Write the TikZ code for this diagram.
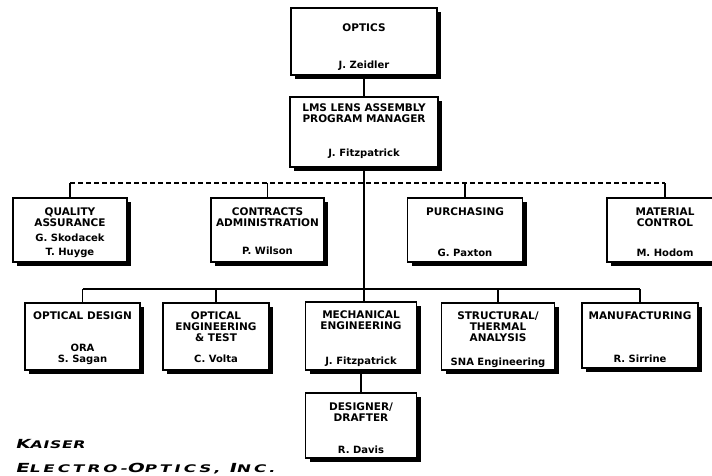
\documentclass[tikz,border=0pt]{standalone}
\usepackage{fontspec}
\setmainfont{DejaVu Sans}
\newfontfamily\kaiserfont[FakeStretch=1.5,FakeSlant=0.25,LetterSpace=6]{DejaVu Sans Bold}
\newfontfamily\kaiserwide[FakeStretch=1.6,FakeSlant=0.25,LetterSpace=28]{DejaVu Sans Bold}
\usetikzlibrary{positioning,shadows}
\newcommand\kbig[1]{{\fontsize{12.5}{14}\selectfont #1}}
\newcommand\ksmall[1]{{\fontsize{10.5}{12}\selectfont #1}}

\begin{document}
\begin{tikzpicture}[x=1pt,y=-1pt,
  unit/.style={draw, line width=1.1pt, fill=white, inner sep=0pt,
    drop shadow={shadow xshift=4pt, shadow yshift=-4pt, opacity=1, fill=black}},
  title/.style={inner sep=0pt, align=center, font=\fontsize{10.5}{11}\selectfont\bfseries},
  person/.style={inner sep=0pt, align=center, text depth=2pt, font=\fontsize{10}{11}\selectfont\bfseries},
  link/.style={line width=1.1pt},
  logo/.style={inner sep=0pt, anchor=base west}]
  \useasboundingbox (0,0) rectangle (712,475);

  \node[unit, minimum width=146pt, minimum height=67pt] (optics) at (364,41.5) {};
  \node[title, below=16pt of optics.north] (optics-t) {OPTICS};
  \node[person, above=4.5pt of optics.south] (optics-n) {J. Zeidler};

  \node[unit, minimum width=148pt, minimum height=70pt] (lms) at (364,132) {};
  \node[title, below=7pt of lms.north] (lms-t) {LMS LENS ASSEMBLY\\PROGRAM MANAGER};
  \node[person, above=8.5pt of lms.south] (lms-n) {J. Fitzpatrick};

  \node[unit, minimum width=114pt, minimum height=64pt] (qa) at (70,230) {};
  \node[title, below=10pt of qa.north] (qa-t) {QUALITY\\ASSURANCE};
  \node[person, above=4.5pt of qa.south] (qa-n) {G. Skodacek\\[3pt]T. Huyge};

  \node[unit, minimum width=113pt, minimum height=64pt] (contracts) at (267.5,230) {};
  \node[title, below=10pt of contracts.north] (contracts-t) {CONTRACTS\\ADMINISTRATION};
  \node[person, above=6pt of contracts.south] (contracts-n) {P. Wilson};

  \node[unit, minimum width=115pt, minimum height=64pt] (purchasing) at (465,230) {};
  \node[title, below=10pt of purchasing.north] (purchasing-t) {PURCHASING};
  \node[person, above=4pt of purchasing.south] (purchasing-n) {G. Paxton};

  \node[unit, minimum width=116pt, minimum height=64pt] (matctrl) at (665,230) {};
  \node[title, below=10pt of matctrl.north] (matctrl-t) {MATERIAL\\CONTROL};
  \node[person, above=4pt of matctrl.south] (matctrl-n) {M. Hodom};

  \node[unit, minimum width=115pt, minimum height=67pt] (optdesign) at (82.5,336.5) {};
  \node[title, below=9pt of optdesign.north] (optdesign-t) {OPTICAL DESIGN};
  \node[person, above=5.5pt of optdesign.south] (optdesign-n) {ORA\\S. Sagan};

  \node[unit, minimum width=106pt, minimum height=67pt] (opteng) at (216,336.5) {};
  \node[title, below=9pt of opteng.north] (opteng-t) {OPTICAL\\ENGINEERING\\\& TEST};
  \node[person, above=5.5pt of opteng.south] (opteng-n) {C. Volta};

  \node[unit, minimum width=111pt, minimum height=68pt] (mech) at (361,336) {};
  \node[title, below=9pt of mech.north] (mech-t) {MECHANICAL\\ENGINEERING};
  \node[person, above=3.5pt of mech.south] (mech-n) {J. Fitzpatrick};

  \node[unit, minimum width=113pt, minimum height=67pt] (struct) at (498,336.5) {};
  \node[title, below=9pt of struct.north] (struct-t) {STRUCTURAL/\\THERMAL\\ANALYSIS};
  \node[person, above=3pt of struct.south] (struct-n) {SNA Engineering};

  \node[unit, minimum width=116pt, minimum height=65pt] (manuf) at (640,335.5) {};
  \node[title, below=9pt of manuf.north] (manuf-t) {MANUFACTURING};
  \node[person, above=3.5pt of manuf.south] (manuf-n) {R. Sirrine};

  \node[unit, minimum width=111pt, minimum height=65pt] (designer) at (361,425.5) {};
  \node[title, below=10pt of designer.north] (designer-t) {DESIGNER/\\DRAFTER};
  \node[person, above=2.5pt of designer.south] (designer-n) {R. Davis};

  \coordinate (staff) at (364,183);
  \coordinate (bus) at (364,289);
  \draw[link] (optics.south) -- (lms.north);
  \draw[link, dash pattern=on 5pt off 3pt] (qa.north |- staff) -- (matctrl.north |- staff);
  \foreach \n in {qa,contracts,purchasing,matctrl}
    \draw[link] (\n.north) -- (\n.north |- staff);
  \draw[link] (optdesign.north |- bus) -- (manuf.north |- bus);
  \foreach \n in {optdesign,opteng,struct,manuf}
    \draw[link] (\n.north) -- (\n.north |- bus);
  \draw[link, line width=1.6pt] (lms.south) -- (lms.south |- mech.north);
  \draw[link] (mech.south) -- (designer.north);

  \node[logo, font=\kaiserfont] (kaiser) at (15,448) {\kbig{K}\ksmall{AISER}};
  \node[logo, font=\kaiserwide] (keo) at (15,472) {\kbig{E}\ksmall{LECTRO-}\kbig{O}\ksmall{PTICS, }\kbig{I}\ksmall{NC.}};
\end{tikzpicture}
\end{document}
